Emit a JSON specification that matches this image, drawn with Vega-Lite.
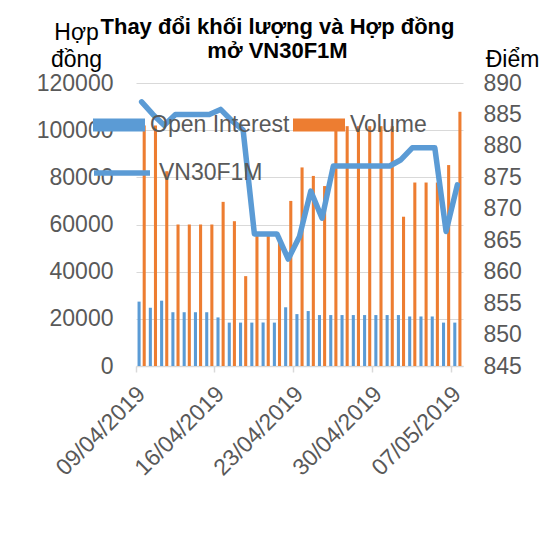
{
  "$schema": "https://vega.github.io/schema/vega-lite/v6.json",
  "width": 327,
  "height": 283,
  "autosize": {"type": "none"},
  "padding": {"left": 136, "top": 83, "right": 93, "bottom": 171},
  "background": "white",
  "config": {"font": "Liberation Sans", "view": {"stroke": null}},
  "title": {
    "text": ["Thay đổi khối lượng và Hợp đồng", "mở VN30F1M"],
    "font": "Liberation Sans",
    "fontSize": 22,
    "fontWeight": "bold",
    "color": "#000000",
    "anchor": "middle",
    "frame": "group",
    "baseline": "alphabetic",
    "lineHeight": 24,
    "offset": 0,
    "dx": -22,
    "dy": 59
  },
  "data": {
    "values": [
      {"date": "09/04/2019", "Open Interest": 27300, "Volume": 102000, "VN30F1M": 887.0},
      {"date": "10/04/2019", "Open Interest": 24700, "Volume": 102000, "VN30F1M": 885.0},
      {"date": "11/04/2019", "Open Interest": 27700, "Volume": 82600, "VN30F1M": 883.3},
      {"date": "12/04/2019", "Open Interest": 22800, "Volume": 60000, "VN30F1M": 885.0},
      {"date": "13/04/2019", "Open Interest": 22800, "Volume": 60000, "VN30F1M": 885.0},
      {"date": "14/04/2019", "Open Interest": 22800, "Volume": 60000, "VN30F1M": 885.0},
      {"date": "15/04/2019", "Open Interest": 22800, "Volume": 60000, "VN30F1M": 885.0},
      {"date": "16/04/2019", "Open Interest": 20600, "Volume": 69600, "VN30F1M": 885.8},
      {"date": "17/04/2019", "Open Interest": 18400, "Volume": 61400, "VN30F1M": 884.0},
      {"date": "18/04/2019", "Open Interest": 18400, "Volume": 38100, "VN30F1M": 882.5},
      {"date": "19/04/2019", "Open Interest": 18400, "Volume": 56500, "VN30F1M": 866.0},
      {"date": "20/04/2019", "Open Interest": 18400, "Volume": 55500, "VN30F1M": 866.0},
      {"date": "21/04/2019", "Open Interest": 18400, "Volume": 55000, "VN30F1M": 866.0},
      {"date": "22/04/2019", "Open Interest": 24900, "Volume": 70000, "VN30F1M": 862.0},
      {"date": "23/04/2019", "Open Interest": 22000, "Volume": 84200, "VN30F1M": 865.6},
      {"date": "24/04/2019", "Open Interest": 23300, "Volume": 80600, "VN30F1M": 872.8},
      {"date": "25/04/2019", "Open Interest": 21600, "Volume": 76300, "VN30F1M": 868.5},
      {"date": "26/04/2019", "Open Interest": 21600, "Volume": 101700, "VN30F1M": 876.8},
      {"date": "27/04/2019", "Open Interest": 21600, "Volume": 101700, "VN30F1M": 876.8},
      {"date": "28/04/2019", "Open Interest": 21600, "Volume": 101700, "VN30F1M": 876.8},
      {"date": "29/04/2019", "Open Interest": 21600, "Volume": 101700, "VN30F1M": 876.8},
      {"date": "30/04/2019", "Open Interest": 21600, "Volume": 101700, "VN30F1M": 876.8},
      {"date": "01/05/2019", "Open Interest": 21600, "Volume": 101700, "VN30F1M": 876.8},
      {"date": "02/05/2019", "Open Interest": 21600, "Volume": 63300, "VN30F1M": 877.8},
      {"date": "03/05/2019", "Open Interest": 21000, "Volume": 77800, "VN30F1M": 879.7},
      {"date": "04/05/2019", "Open Interest": 21000, "Volume": 77800, "VN30F1M": 879.7},
      {"date": "05/05/2019", "Open Interest": 21000, "Volume": 77800, "VN30F1M": 879.7},
      {"date": "06/05/2019", "Open Interest": 18400, "Volume": 85200, "VN30F1M": 866.4},
      {"date": "07/05/2019", "Open Interest": 18400, "Volume": 107800, "VN30F1M": 873.8}
    ]
  },
  "encoding": {
    "x": {
      "field": "date",
      "type": "ordinal",
      "sort": null,
      "scale": {"paddingInner": 0, "paddingOuter": 0},
      "axis": {
        "values": ["09/04/2019", "16/04/2019", "23/04/2019", "30/04/2019", "07/05/2019"],
        "bandPosition": 0,
        "title": null,
        "labelAngle": -45,
        "labelAlign": "right",
        "labelBaseline": "middle",
        "labelFontSize": 23,
        "labelColor": "#595959",
        "labelPadding": 18,
        "domainColor": "#d9d9d9",
        "domainWidth": 1.5,
        "tickColor": "#d9d9d9",
        "tickWidth": 1.5,
        "tickSize": 6,
        "grid": false
      }
    }
  },
  "layer": [
    {
      "transform": [{"fold": ["Open Interest", "Volume"], "as": ["series", "value"]}],
      "mark": {"type": "bar"},
      "encoding": {
        "xOffset": {"field": "series", "type": "nominal", "scale": {"paddingInner": 0.4, "paddingOuter": 0.3}},
        "y": {
          "field": "value",
          "type": "quantitative",
          "scale": {"domain": [0, 120000]},
          "axis": {
            "values": [0, 20000, 40000, 60000, 80000, 100000, 120000],
            "format": "d",
            "grid": true,
            "gridColor": "#d9d9d9",
            "gridWidth": 1.2,
            "domain": false,
            "ticks": false,
            "labelFontSize": 23,
            "labelColor": "#595959",
            "labelPadding": 23,
            "title": ["Hợp", "đồng"],
            "titleFont": "Liberation Sans",
            "titleFontSize": 23,
            "titleFontWeight": "normal",
            "titleColor": "#000000",
            "titleAngle": 0,
            "titleAlign": "center",
            "titleBaseline": "alphabetic",
            "titleLineHeight": 27,
            "titleX": -60,
            "titleY": -44
          }
        },
        "color": {
          "field": "series",
          "type": "nominal",
          "scale": {"domain": ["Open Interest", "Volume"], "range": ["#5B9BD5", "#ED7D31"]},
          "legend": {
            "title": null,
            "orient": "none",
            "direction": "horizontal",
            "legendX": -43,
            "legendY": 16,
            "padding": 0,
            "symbolType": "M-1,-0.25L1,-0.25L1,0.25L-1,0.25Z",
            "symbolSize": 2704,
            "symbolStrokeWidth": 0,
            "labelFontSize": 23,
            "labelColor": "#595959",
            "labelOffset": 5,
            "columnPadding": 3,
            "labelLimit": 300
          }
        }
      }
    },
    {
      "mark": {"type": "line", "strokeWidth": 5.5, "strokeJoin": "round", "strokeCap": "round"},
      "encoding": {
        "y": {
          "field": "VN30F1M",
          "type": "quantitative",
          "scale": {"domain": [845, 890], "zero": false},
          "axis": {
            "orient": "right",
            "values": [845, 850, 855, 860, 865, 870, 875, 880, 885, 890],
            "grid": false,
            "domain": false,
            "ticks": false,
            "labelFontSize": 23,
            "labelColor": "#595959",
            "labelPadding": 20,
            "title": "Điểm",
            "titleFont": "Liberation Sans",
            "titleFontSize": 23,
            "titleFontWeight": "normal",
            "titleColor": "#000000",
            "titleAngle": 0,
            "titleAlign": "center",
            "titleBaseline": "alphabetic",
            "titleX": 49,
            "titleY": -17
          }
        },
        "stroke": {
          "datum": "VN30F1M",
          "scale": {"domain": ["VN30F1M"], "range": ["#5B9BD5"]},
          "legend": {
            "title": null,
            "orient": "none",
            "legendX": -45,
            "legendY": 59,
            "padding": 0,
            "symbolType": "stroke",
            "symbolSize": 3136,
            "symbolStrokeWidth": 5.5,
            "labelFontSize": 23,
            "labelColor": "#595959",
            "labelOffset": 6
          }
        }
      }
    }
  ],
  "resolve": {"scale": {"y": "independent"}}
}
